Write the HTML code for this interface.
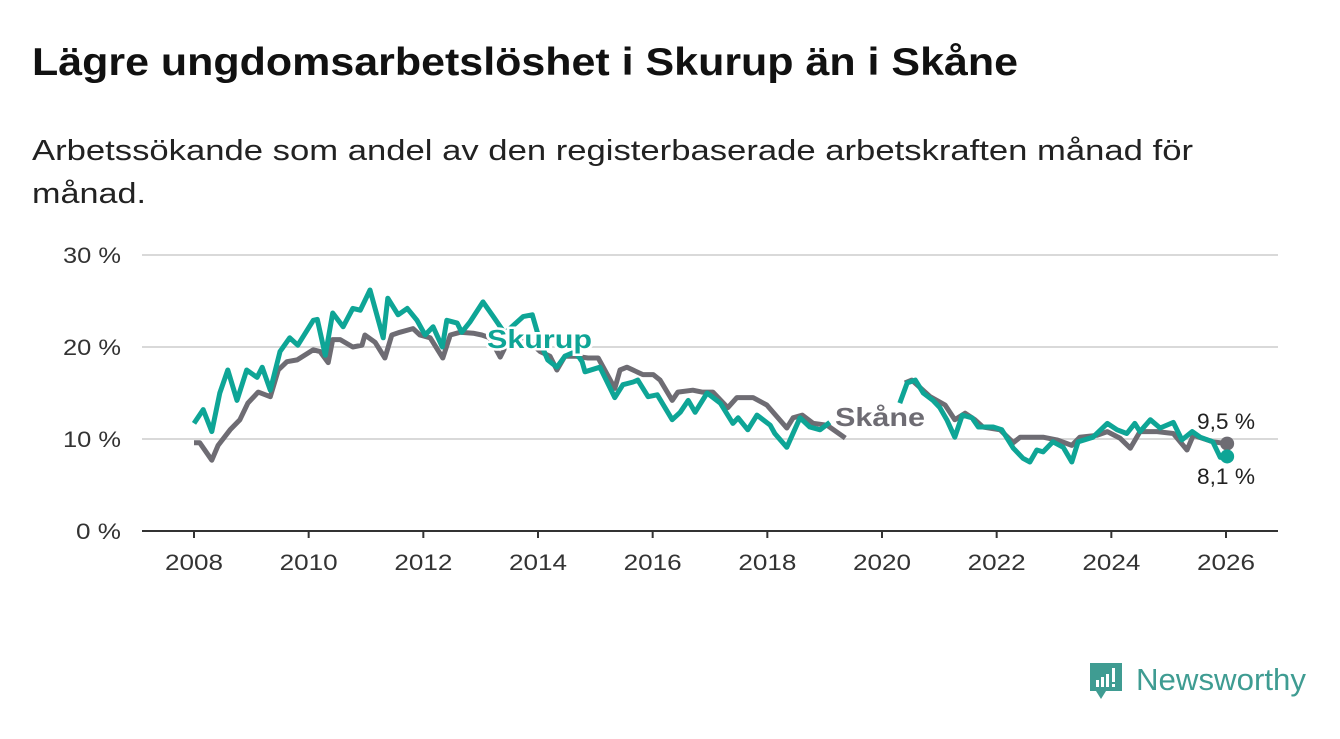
<!DOCTYPE html>
<html><head><meta charset="utf-8"><style>
body{margin:0;background:#fff;width:1340px;height:734px;overflow:hidden;font-family:"Liberation Sans",sans-serif;}
svg text{font-family:"Liberation Sans",sans-serif;}
</style></head><body>
<svg id="chart" width="1340" height="734">
<text x="32" y="75" font-size="39" font-weight="bold" fill="#111" textLength="986" lengthAdjust="spacingAndGlyphs">Lägre ungdomsarbetslöshet i Skurup än i Skåne</text>
<text x="32" y="160" font-size="29" fill="#222" textLength="1161" lengthAdjust="spacingAndGlyphs">Arbetssökande som andel av den registerbaserade arbetskraften månad för</text>
<text x="32" y="203" font-size="29" fill="#222" textLength="114" lengthAdjust="spacingAndGlyphs">månad.</text>
<g id="grid"></g><g id="lines"></g><g id="labels"></g>
<g>
<path d="M1090,663 h32 v28 h-16 l-5,8 l-5,-8 h-6 z" fill="#3f9c92"/>
<rect x="1096" y="680" width="3" height="7" fill="#fff"/><rect x="1101" y="677" width="3" height="10" fill="#fff"/><rect x="1106" y="674" width="3" height="13" fill="#fff"/><rect x="1112" y="668" width="3" height="14" fill="#fff"/><rect x="1112" y="684" width="3" height="3" fill="#fff"/>
<text x="1136" y="690" font-size="31" fill="#3f9c92" textLength="170" lengthAdjust="spacingAndGlyphs">Newsworthy</text>
</g>
</svg>
<script>
const yTicks=[0,10,20,30];
const xTicks=[2008,2010,2012,2014,2016,2018,2020,2022,2024,2026];
const skurupDates=[2008.0,2008.16,2008.31,2008.45,2008.59,2008.75,2008.92,2009.10,2009.19,2009.33,2009.50,2009.67,2009.81,2010.08,2010.15,2010.29,2010.42,2010.60,2010.77,2010.90,2011.07,2011.30,2011.38,2011.56,2011.72,2011.89,2012.03,2012.17,2012.33,2012.41,2012.59,2012.67,2012.81,2013.04,2013.22,2013.42,2013.74,2013.90,2014.04,2014.17,2014.33,2014.47,2014.65,2014.77,2014.82,2015.08,2015.34,2015.48,2015.66,2015.74,2015.92,2016.08,2016.34,2016.48,2016.62,2016.74,2016.95,2017.18,2017.40,2017.49,2017.66,2017.82,2018.05,2018.13,2018.34,2018.57,2018.74,2018.92,2019.09,2019.7,2020.31,2020.44,2020.58,2020.72,2020.89,2021.01,2021.13,2021.27,2021.40,2021.57,2021.68,2021.94,2022.09,2022.29,2022.46,2022.58,2022.70,2022.81,2022.98,2023.16,2023.31,2023.42,2023.68,2023.93,2024.10,2024.27,2024.41,2024.50,2024.68,2024.85,2025.08,2025.23,2025.41,2025.55,2025.77,2025.90,2026.02];
const skurupValues=[11.7,13.2,10.8,15,17.5,14.2,17.5,16.7,17.8,15.3,19.5,21,20.2,22.9,23,19.1,23.7,22.2,24.2,24,26.2,21,25.3,23.5,24.2,22.9,21.3,22.2,20,22.9,22.6,21.6,22.7,24.9,23.3,21.5,23.3,23.5,20.5,18.6,17.8,19,19.5,18.4,17.3,17.8,14.5,15.9,16.2,16.4,14.6,14.8,12.1,12.9,14.2,12.9,15,13.9,11.7,12.3,11,12.6,11.5,10.6,9.1,12.3,11.3,11,11.8,null,13.9,16.1,16.4,15,14.2,13.4,12.1,10.2,12.6,12.3,11.3,11.3,11,9,7.9,7.5,8.8,8.6,9.7,9.1,7.5,9.7,10.2,11.7,11,10.6,11.7,10.8,12.1,11.2,11.8,9.9,10.8,10.2,9.7,8,8.1];
const skaneDates=[2008.0,2008.10,2008.31,2008.42,2008.63,2008.80,2008.94,2009.12,2009.33,2009.47,2009.62,2009.80,2010.08,2010.20,2010.34,2010.42,2010.55,2010.77,2010.93,2010.98,2011.16,2011.33,2011.45,2011.59,2011.82,2011.94,2012.12,2012.34,2012.47,2012.64,2012.87,2013.02,2013.16,2013.34,2013.51,2013.77,2014.04,2014.21,2014.33,2014.47,2014.65,2014.87,2015.05,2015.34,2015.43,2015.55,2015.83,2016.01,2016.13,2016.34,2016.44,2016.70,2016.86,2017.05,2017.31,2017.47,2017.75,2017.99,2018.34,2018.45,2018.61,2018.80,2019.04,2019.36,2019.8,2020.40,2020.52,2020.84,2021.10,2021.27,2021.45,2021.62,2021.76,2022.06,2022.29,2022.41,2022.81,2023.05,2023.31,2023.45,2023.75,2023.93,2024.15,2024.33,2024.50,2024.80,2025.08,2025.32,2025.43,2025.77,2026.02];
const skaneValues=[9.6,9.6,7.7,9.3,11,12.1,13.9,15.1,14.6,17.5,18.4,18.6,19.7,19.5,18.3,20.8,20.8,20,20.2,21.3,20.5,18.8,21.3,21.6,22,21.3,21,18.8,21.3,21.6,21.5,21.3,21,18.9,21,21,19.5,19,17.5,19,19,18.8,18.8,15.5,17.5,17.8,17,17,16.4,14.2,15.1,15.3,15.1,15.1,13.4,14.5,14.5,13.7,11.2,12.3,12.6,11.7,11.5,10.1,null,16.1,16.4,14.6,13.7,12.1,12.8,12.1,11.3,11,9.6,10.2,10.2,9.9,9.3,10.2,10.4,10.8,10.1,9,10.8,10.8,10.6,8.8,10.4,9.7,9.5];
const NS='http://www.w3.org/2000/svg';
const X=t=>194+(t-2008)*(1226-194)/18;
const Y=v=>531-v*9.2;
function mk(tag,attrs,parent){const e=document.createElementNS(NS,tag);for(const k in attrs)e.setAttribute(k,attrs[k]);parent.appendChild(e);return e;}
const grid=document.getElementById('grid'),lines=document.getElementById('lines'),labels=document.getElementById('labels');
yTicks.forEach(v=>{
  if(v>0){const l=mk('line',{x1:142,x2:1278,y1:Y(v),y2:Y(v),stroke:'#d9d9d9','stroke-width':2},grid);
  
  }
  const t=mk('text',{x:121,y:Y(v)+8,'font-size':22,fill:'#333','text-anchor':'end',textLength:v>0?58:45,lengthAdjust:'spacingAndGlyphs'},grid);t.textContent=v+' %';
  
  
});
const ax=mk('line',{x1:142,x2:1278,y1:531,y2:531,stroke:'#333','stroke-width':2},grid);


xTicks.forEach(y=>{
  mk('line',{x1:X(y),x2:X(y),y1:531,y2:538,stroke:'#333','stroke-width':2},grid);
  const t=mk('text',{x:X(y),y:570,'font-size':22,fill:'#333','text-anchor':'middle',textLength:58,lengthAdjust:'spacingAndGlyphs'},grid);t.textContent=y;
  
  
});
function path(d,v){let s='',pen=false;for(let i=0;i<d.length;i++){if(v[i]==null){pen=false;continue;}s+=(pen?'L':'M')+X(d[i]).toFixed(1)+','+Y(v[i]).toFixed(1);pen=true;}return s;}
const g=mk('path',{d:path(skaneDates,skaneValues),fill:'none',stroke:'#6e6c73','stroke-width':5,'stroke-linejoin':'round'},lines);


const tl=mk('path',{d:path(skurupDates,skurupValues),fill:'none',stroke:'#0ea596','stroke-width':5,'stroke-linejoin':'round'},lines);


const gl=skaneValues.length-1,tl2=skurupValues.length-1;
const d1=mk('circle',{cx:X(skaneDates[gl]),cy:Y(skaneValues[gl]),r:7,fill:'#6e6c73'},lines);


const d2=mk('circle',{cx:X(skurupDates[tl2]),cy:Y(skurupValues[tl2]),r:7,fill:'#0ea596'},lines);


function lab(x,y,txt,fill,w,name,size,len){const t=mk('text',{x:x,y:y,'font-size':size,'font-weight':w,fill:fill,stroke:'#fff','stroke-width':5,'paint-order':'stroke',textLength:len,lengthAdjust:'spacingAndGlyphs'},labels);t.textContent=txt;

}
lab(487,348,'Skurup','#0ea596','bold','skurup-label',26,105);
lab(835,426,'Skåne','#6e6c73','bold','skane-label',26,90);
lab(1197,429,skaneValues[gl].toString().replace('.',',')+' %','#222','normal','skane-end-value',22,58);
lab(1197,484,skurupValues[tl2].toString().replace('.',',')+' %','#222','normal','skurup-end-value',22,58);
</script>
</body></html>
